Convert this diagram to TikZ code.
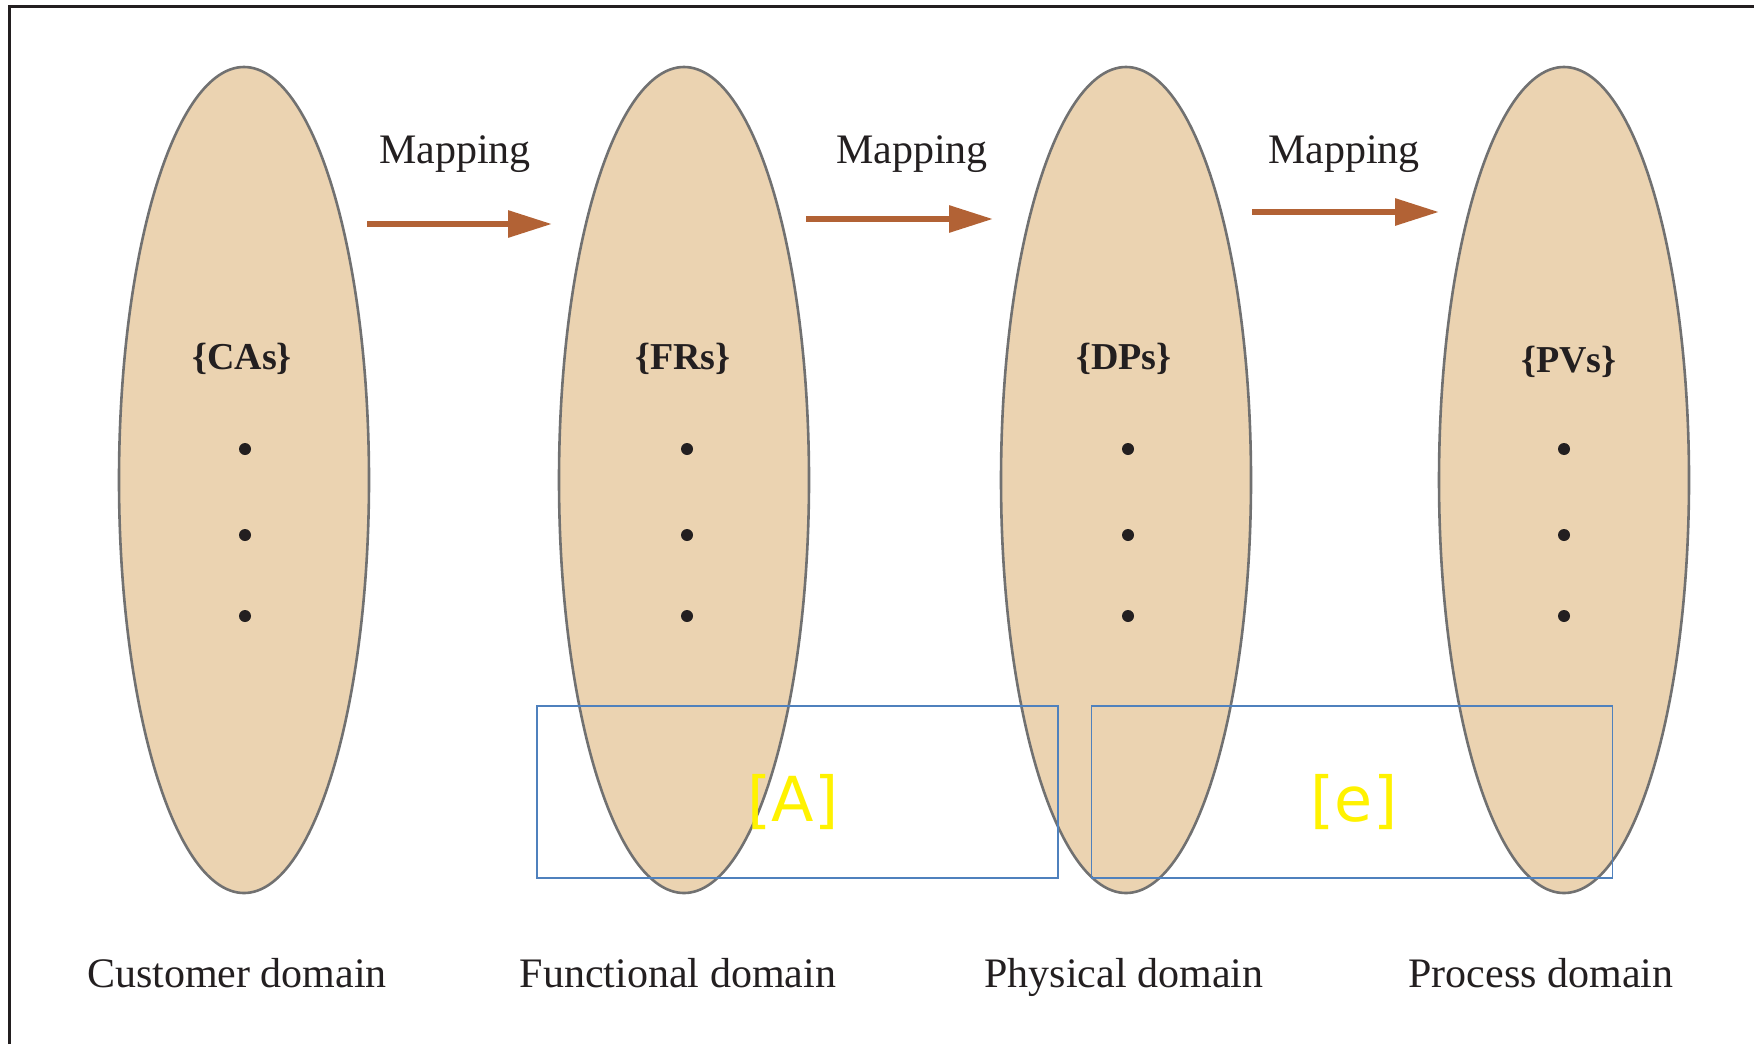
\documentclass[tikz,border=0pt]{standalone}
\usepackage{fontspec}
\setmainfont{Liberation Serif}
\newfontfamily\tagfont{DejaVu Sans}
\usetikzlibrary{shapes.geometric,arrows.meta}

\definecolor{domainfill}{HTML}{EBD3B1}
\definecolor{domainedge}{HTML}{717171}
\definecolor{mapcol}{HTML}{B26235}
\definecolor{tagbox}{HTML}{4F81BD}
\definecolor{textcol}{HTML}{231F20}

\tikzset{
  domainshape/.style={ellipse, draw=domainedge, line width=1.3pt, fill=domainfill,
    minimum width=125pt, minimum height=413pt, inner sep=0pt},
  setlabel/.style={font=\fontsize{19}{22}\selectfont\bfseries, text=textcol, anchor=base},
  maplabel/.style={font=\fontsize{21}{25}\selectfont, text=textcol, anchor=base},
  domlabel/.style={font=\fontsize{21}{25}\selectfont, text=textcol, anchor=base},
  dotmark/.style={circle, fill=textcol, inner sep=0pt, minimum size=6pt},
  maparrow/.style={draw=mapcol, line width=3pt, -{Triangle[length=22pt,width=13pt]}},
  tagframe/.style={draw=tagbox, line width=0.8pt, inner sep=0pt,
    minimum width=260.5pt, minimum height=86pt},
  taglabel/.style={font=\tagfont\fontsize{31}{36}\selectfont, text=yellow}
}

\begin{document}
\begin{tikzpicture}[x=0.5pt,y=-0.5pt]
\useasboundingbox (0,0) rectangle (1754,1044);

% outer frame (only left and top edges fall inside the page)
\draw[line width=1.5pt, draw=textcol] (9.5,1044) -- (9.5,6.5) -- (1754,6.5);

% the four domains
\node[domainshape] (ca) at (244,480) {};
\node[domainshape] (fr) at (684,480) {};
\node[domainshape] (dp) at (1126,480) {};
\node[domainshape] (pv) at (1564,480) {};

% set names
\node[setlabel] (catxt) at (242,369) {\{CAs\}};
\node[setlabel] (frtxt) at (683,369) {\{FRs\}};
\node[setlabel] (dptxt) at (1124,369) {\{DPs\}};
\node[setlabel] (pvtxt) at (1569,372) {\{PVs\}};

% vertical ellipsis dots
\foreach \n/\x in {ca/245, fr/687, dp/1128, pv/1564}{
  \node[dotmark] (\n d1) at (\x,449) {};
  \node[dotmark] (\n d2) at (\x,535) {};
  \node[dotmark] (\n d3) at (\x,616) {};
}

% mapping arrows
\coordinate (m1s) at (367,224);  \coordinate (m1e) at (552,224);
\coordinate (m2s) at (806,219);  \coordinate (m2e) at (993,219);
\coordinate (m3s) at (1252,212); \coordinate (m3e) at (1439,212);
\draw[maparrow] (m1s) -- (m1e);
\draw[maparrow] (m2s) -- (m2e);
\draw[maparrow] (m3s) -- (m3e);

\node[maplabel] (map1) at (455,163) {Mapping};
\node[maplabel] (map2) at (912,163) {Mapping};
\node[maplabel] (map3) at (1344,163) {Mapping};

% domain names
\node[domlabel] (cadom) at (237,987) {Customer domain};
\node[domlabel] (frdom) at (678,987) {Functional domain};
\node[domlabel] (dpdom) at (1124,987) {Physical domain};
\node[domlabel] (pvdom) at (1541,987) {Process domain};

% design matrix boxes
\node[tagframe] (boxA) at (797.5,792) {};
\node[tagframe] (boxE) at (1352,792) {};
\node[taglabel] (tagA) at (793,802) {[A]};
\node[taglabel] (tagE) at (1354,802) {[e]};
\end{tikzpicture}
\end{document}
